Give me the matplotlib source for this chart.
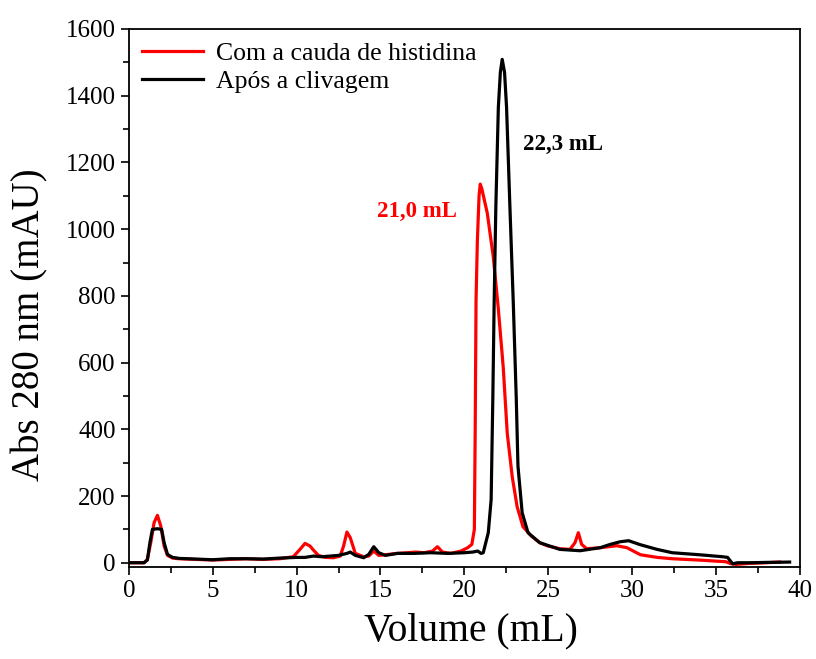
import numpy as np
from matplotlib import pyplot as plt
from matplotlib.ticker import MultipleLocator

plt.rcParams['font.family'] = ['Liberation Serif', 'DejaVu Serif']

# volume (mL) / absorbance (mAU)
vol_red = [0, 0.9, 1.1, 1.3, 1.5, 1.7, 1.9, 2.1, 2.3, 2.6, 3.0, 4, 5, 6, 7, 8, 9,
           9.8, 10.2, 10.5, 10.8, 11.0, 11.3, 11.7, 12.2, 12.6, 12.8, 13.0, 13.2,
           13.5, 14.0, 14.3, 14.6, 14.9, 15.3, 16, 16.6, 17.1, 17.6, 18.1, 18.4,
           18.7, 19.2, 19.8, 20.2, 20.45, 20.6, 20.65, 20.7, 20.78, 20.88, 20.95,
           21.05, 21.37, 21.73, 22.02, 22.32, 22.56, 22.86, 23.15, 23.5, 24.0,
           24.5, 25.0, 25.7, 26.3, 26.6, 26.8, 27.0, 27.3, 28.1, 28.6, 29.1, 29.7,
           30.5, 31.5, 32.4, 34, 35.6, 35.9, 36.2, 37, 38, 38.8]
abs_red = [0, 0, 10, 60, 120, 142, 110, 50, 22, 14, 12, 10, 8, 10, 12, 10, 12,
           18, 40, 58, 50, 38, 22, 16, 15, 20, 50, 92, 75,
           28, 18, 20, 35, 22, 24, 28, 30, 32, 30, 35, 48,
           32, 28, 35, 45, 55, 100, 400, 787, 967, 1100, 1135,
           1120, 1048, 916, 766, 587, 389, 257, 168, 108, 80,
           60, 50, 42, 40, 60, 90, 55, 42, 45, 48, 51, 45,
           24, 16, 12, 8, 3, -3, -5, -2, 0, 2]

vol_blk = [0, 0.9, 1.1, 1.25, 1.4, 1.7, 1.95, 2.1, 2.3, 2.6, 3.0, 4, 5, 6, 7, 8,
           9, 10, 10.5, 11, 11.5, 12, 12.5, 13.0, 13.2, 13.5, 14.0, 14.3, 14.6,
           14.9, 15.3, 16, 17, 18, 19, 20, 20.5, 20.8, 21.0, 21.13, 21.43, 21.6,
           21.7, 21.78, 21.88, 22.03, 22.15, 22.26, 22.4, 22.52, 22.72, 22.92,
           23.1, 23.2, 23.45, 23.8, 24.5, 25.7, 26.9, 28.1, 28.7, 29.3, 29.8,
           30.5, 31.5, 32.4, 34, 35.4, 35.7, 36.0, 36.3, 37, 38, 39.4]
abs_blk = [0, 0, 8, 60, 100, 102, 100, 60, 25, 16, 13, 11, 9, 12, 12, 11,
           14, 16, 16, 20, 18, 20, 22, 28, 32, 22, 15, 25, 48,
           30, 22, 28, 28, 30, 28, 30, 32, 35, 28, 30, 90, 189,
           490, 780, 1066, 1365, 1470, 1509, 1470, 1365, 1066, 780,
           490, 290, 150, 90, 60, 40, 36, 45, 55, 63, 66,
           54, 40, 30, 24, 18, 16, -3, 0, 0, 1, 2]

fig = plt.figure(figsize=(8.16, 6.59), dpi=100)
ax = fig.add_axes([0.158, 0.140, 0.822, 0.816])

ax.plot(vol_red, abs_red, color='#ff0000', lw=2.3, label='Com a cauda de histidina')
ax.plot(vol_blk, abs_blk, color='black', lw=2.3, label='Após a clivagem')

ax.set_xlim(0, 40)
ax.set_ylim(-12, 1600)
ax.xaxis.set_major_locator(MultipleLocator(5))
ax.xaxis.set_minor_locator(MultipleLocator(2.5))
ax.yaxis.set_major_locator(MultipleLocator(200))
ax.yaxis.set_minor_locator(MultipleLocator(100))
ax.tick_params(which='both', direction='out', top=False, right=False,
               width=1.2, labelsize=18)
ax.tick_params(which='major', length=6)
ax.tick_params(which='minor', length=4)
for s in ax.spines.values():
    s.set_linewidth(1.3)

ax.set_xlabel('Volume (mL)', fontsize=28.5)
ax.set_ylabel('Abs 280 nm (mAU)', fontsize=28)
ax.xaxis.set_label_coords(0.51, -0.085)
ax.yaxis.set_label_coords(-0.12, 0.45)

ax.text(14.8, 1054, '21,0 mL', color='#ff0000', fontsize=16.5, fontweight='bold',
        ha='left', va='center')
ax.text(23.5, 1254, '22,3 mL', color='black', fontsize=16.5, fontweight='bold',
        ha='left', va='center')

ax.legend(loc='upper left', frameon=False, fontsize=18.5, handlelength=2.4,
          handletextpad=0.5, borderaxespad=0.2, borderpad=0.3, labelspacing=0.2)

fig.savefig('out.png', dpi=100)
